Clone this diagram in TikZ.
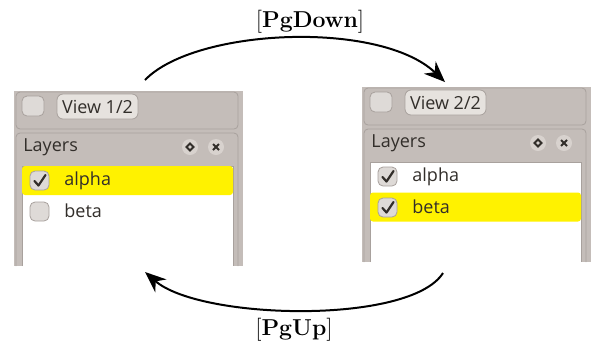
\documentclass[tikz,border=0pt]{standalone}
\usepackage{fontspec}
\newfontfamily\guifont{Open Sans}
\usetikzlibrary{arrows.meta,positioning,calc}

\definecolor{dockgrey}{RGB}{196,189,185}
\definecolor{edgegrey}{RGB}{168,161,157}
\definecolor{boxgrey}{RGB}{222,218,215}
\definecolor{btngrey}{RGB}{230,226,222}
\definecolor{iconbg}{RGB}{216,210,206}
\definecolor{inkgrey}{RGB}{50,46,42}

\begin{document}
\begin{tikzpicture}[x=0.5pt,y=-0.5pt,
  flip/.style={-{Stealth[length=10.5pt,width=8.5pt]},line width=1pt},
  keylabel/.style={font=\fontsize{11.5}{13}\selectfont},
  gui/.style={font=\guifont\fontsize{9}{10}\selectfont,text=inkgrey,inner sep=0pt},
  tickbox/.style={draw=edgegrey,fill=boxgrey,rounded corners=2.5pt},
  tickmark/.style={draw=inkgrey,line width=1.1pt,line cap=round,line join=round},
  frame/.style={draw=edgegrey,line width=0.4pt,rounded corners=2pt}]
\useasboundingbox (0,0) rectangle (603,345);

% the two views of the layers dock
\foreach \n/\dx/\dy/\hl/\bchk in {1/0/0/180.5/0, 2/348/-4/211/1}{
  \begin{scope}[shift={(\dx,\dy)}]
    \fill[dockgrey] (14,91) rectangle (243,266);
    \draw[frame] (16,92) rectangle (238,129);
    \draw[frame] (16,266) |- (238,133) -- (238,266);
    % view switcher
    \draw[tickbox] (22,96) rectangle (44,116);
    \draw[frame,fill=btngrey,rounded corners=3pt] (57,94) rectangle (138,119);
    \node[gui] (view\n) at (97.5,106.5) {View \n/2};
    % dock title bar
    \node[gui,anchor=west] (layers\n) at (23,147) {Layers};
    \fill[iconbg] (190,147) circle (8) (216,147) circle (8);
    \draw[inkgrey,line width=1pt] (190,143.5) -- (193.5,147) -- (190,150.5) -- (186.5,147) -- cycle;
    \draw[inkgrey,line width=1pt] (213,144) -- (219,150) (219,144) -- (213,150);
    % layer list
    \fill[white] (22,166) rectangle (233,266);
    \draw[edgegrey,line width=0.3pt] (22,266) -- (22,166) -- (233,166) -- (233,266);
    \fill[yellow,rounded corners=1.5pt] (22,{\hl-14.5}) rectangle (233,{\hl+14.5});
    \draw[tickbox] (30,171) rectangle (49,190);
    \draw[tickbox] (30,202) rectangle (49,221);
    \draw[tickmark] (34.5,181) -- (38.5,185.5) -- (45.5,175);
    \ifnum\bchk=1
      \draw[tickmark] (34.5,212) -- (38.5,216.5) -- (45.5,206);
    \fi
    \node[gui,anchor=west] (alpha\n) at (64,180.5) {alpha};
    \node[gui,anchor=west] (beta\n) at (64,211) {beta};
  \end{scope}
}

% page flips
\coordinate (dn-from) at (145,80);
\coordinate (dn-to)   at (445,82);
\coordinate (up-from) at (443,273);
\coordinate (up-to)   at (145,272);
\draw[flip] (dn-from) .. controls (195,28) and (380,20) .. (dn-to);
\draw[flip] (up-from) .. controls (410,325) and (200,320) .. (up-to);
\node[keylabel] (pgdown) at (310,21.5) {[\textbf{PgDown}]};
\node[keylabel] (pgup)   at (294,330) {[\textbf{PgUp}]};
\end{tikzpicture}
\end{document}
